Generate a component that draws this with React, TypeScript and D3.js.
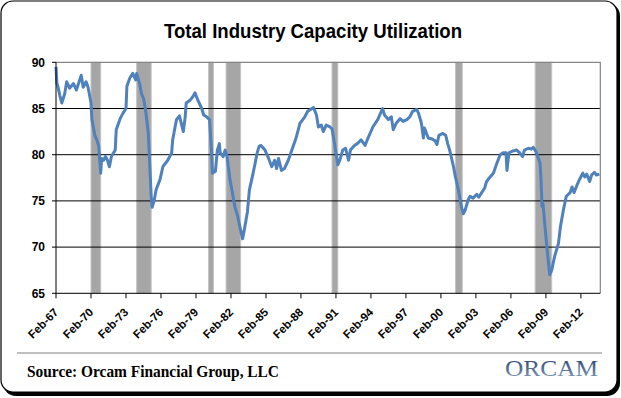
import * as d3 from "d3";

const WIDTH = 621;
const HEIGHT = 398;
const PLOT = { left: 56, right: 600.3, top: 62.3, bottom: 293.3 };

const TITLE = "Total Industry Capacity Utilization";
const SOURCE = "Source: Orcam Financial Group, LLC";
const LOGO = "ORCAM";

const Y_TICKS = [65, 70, 75, 80, 85, 90];
const TICK_YEARS = [1967, 1970, 1973, 1976, 1979, 1982, 1985, 1988, 1991, 1994, 1997, 2000, 2003, 2006, 2009, 2012];

// shaded recession periods, as placed on the chart
const RECESSIONS: [string, string][] = [
  ["1970-02", "1970-12"],
  ["1974-01", "1975-04"],
  ["1980-03", "1980-08"],
  ["1981-09", "1982-12"],
  ["1990-10", "1991-04"],
  ["2001-05", "2001-12"],
  ["2008-03", "2009-08"],
];

// capacity utilization (%)
const SERIES: [string, number][] = [
  ["1967-02", 89.5], ["1967-03", 87.7], ["1967-04", 87.4], ["1967-06", 86.4], ["1967-08", 85.6],
  ["1967-11", 86.6], ["1968-01", 87.9], ["1968-04", 87.2], ["1968-08", 87.7], ["1968-11", 87.0],
  ["1969-04", 88.6], ["1969-06", 87.3], ["1969-09", 87.9], ["1969-11", 87.3], ["1970-02", 85.6],
  ["1970-03", 83.8], ["1970-06", 82.1], ["1970-08", 81.6], ["1970-10", 80.9], ["1970-12", 78.0],
  ["1971-01", 79.6], ["1971-03", 79.4], ["1971-05", 79.8], ["1971-07", 79.4], ["1971-09", 78.7],
  ["1971-11", 79.8], ["1972-03", 80.5], ["1972-04", 82.7], ["1972-08", 83.9], ["1972-11", 84.5],
  ["1973-02", 85.0], ["1973-03", 87.4], ["1973-06", 88.3], ["1973-09", 88.8], ["1973-12", 88.1],
  ["1974-01", 88.8], ["1974-04", 87.7], ["1974-06", 86.6], ["1974-08", 86.1], ["1974-10", 85.0],
  ["1975-01", 82.3], ["1975-04", 75.5], ["1975-05", 74.3], ["1975-07", 75.0], ["1975-09", 76.2],
  ["1976-01", 77.3], ["1976-04", 78.7], ["1976-09", 79.4], ["1977-01", 80.2], ["1977-02", 81.6],
  ["1977-06", 83.8], ["1977-09", 84.2], ["1978-01", 82.5], ["1978-03", 84.1], ["1978-04", 85.6],
  ["1978-08", 85.9], ["1978-11", 86.3], ["1979-01", 86.7], ["1979-04", 85.9], ["1979-08", 85.0],
  ["1979-10", 84.3], ["1980-01", 84.1], ["1980-04", 83.8], ["1980-06", 80.5], ["1980-07", 78.0],
  ["1980-10", 78.2], ["1980-12", 80.5], ["1981-02", 81.2], ["1981-03", 80.2], ["1981-06", 79.8],
  ["1981-08", 80.5], ["1981-10", 79.8], ["1982-01", 77.3], ["1982-03", 76.2], ["1982-06", 74.4],
  ["1982-09", 73.3], ["1982-12", 71.8], ["1983-02", 70.9], ["1983-04", 72.0], ["1983-07", 73.8],
  ["1983-09", 76.2], ["1983-12", 77.6], ["1984-03", 79.1], ["1984-05", 80.2], ["1984-07", 80.9],
  ["1984-09", 81.0], ["1985-01", 80.5], ["1985-04", 79.8], ["1985-08", 78.7], ["1985-11", 79.4],
  ["1986-01", 78.5], ["1986-03", 79.6], ["1986-06", 78.3], ["1986-09", 78.5], ["1987-01", 79.4],
  ["1987-04", 80.3], ["1987-09", 81.8], ["1988-01", 83.4], ["1988-06", 84.1], ["1988-09", 84.7],
  ["1989-03", 85.1], ["1989-06", 84.3], ["1989-08", 83.0], ["1989-11", 83.2], ["1990-01", 82.5],
  ["1990-04", 83.2], ["1990-08", 83.0], ["1990-10", 82.8], ["1991-01", 80.9], ["1991-04", 78.9],
  ["1991-06", 79.4], ["1991-09", 80.5], ["1991-12", 80.7], ["1992-03", 79.4], ["1992-05", 80.5],
  ["1992-09", 81.0], ["1992-12", 81.2], ["1993-04", 81.6], ["1993-08", 81.0], ["1993-11", 81.8],
  ["1994-04", 83.0], ["1994-09", 83.8], ["1995-02", 85.0], ["1995-04", 84.3], ["1995-08", 83.8],
  ["1995-11", 84.1], ["1996-01", 82.7], ["1996-04", 83.4], ["1996-08", 83.9], ["1996-11", 83.6],
  ["1997-03", 83.8], ["1997-06", 84.1], ["1997-09", 84.7], ["1998-01", 84.9], ["1998-03", 84.5],
  ["1998-06", 83.4], ["1998-08", 81.8], ["1998-09", 82.9], ["1999-01", 81.8], ["1999-05", 81.7],
  ["1999-08", 81.5], ["1999-10", 81.1], ["1999-12", 82.1], ["2000-04", 82.3], ["2000-07", 82.1],
  ["2000-09", 81.2], ["2000-11", 80.5], ["2001-03", 78.7], ["2001-05", 77.6], ["2001-08", 76.2],
  ["2001-11", 74.4], ["2002-01", 73.6], ["2002-03", 74.0], ["2002-06", 75.1], ["2002-08", 75.5],
  ["2002-11", 75.3], ["2003-03", 75.7], ["2003-05", 75.4], ["2003-08", 75.9], ["2003-11", 76.4],
  ["2004-01", 77.1], ["2004-04", 77.5], ["2004-08", 78.0], ["2004-11", 78.9], ["2005-03", 80.0],
  ["2005-06", 80.2], ["2005-09", 80.2], ["2005-10", 78.3], ["2005-12", 80.2], ["2006-04", 80.4],
  ["2006-08", 80.5], ["2006-11", 80.2], ["2007-02", 79.8], ["2007-04", 80.5], ["2007-08", 80.7],
  ["2007-11", 80.6], ["2008-01", 80.8], ["2008-04", 80.3], ["2008-08", 79.1], ["2008-09", 77.3],
  ["2008-10", 74.4], ["2008-11", 74.7], ["2009-02", 71.1], ["2009-04", 69.0], ["2009-06", 67.0],
  ["2009-08", 67.5], ["2009-11", 69.0], ["2010-03", 70.4], ["2010-05", 72.2], ["2010-08", 74.0],
  ["2010-11", 75.5], ["2011-03", 75.9], ["2011-05", 76.5], ["2011-07", 75.9], ["2011-10", 76.7],
  ["2012-01", 77.4], ["2012-04", 78.0], ["2012-06", 77.6], ["2012-08", 77.9], ["2012-11", 77.1],
  ["2013-01", 77.8], ["2013-04", 78.1], ["2013-06", 77.8], ["2013-09", 77.9],
];

const parse = d3.timeParse("%Y-%m");
const fmt = d3.timeFormat("%b-%y");
const SERIF = "'Liberation Serif', 'Times New Roman', serif";

export default function App() {
  const xScale = d3
    .scaleTime()
    .domain([new Date(1967, 1, 1), new Date(2013, 9, 1)])
    .range([PLOT.left, PLOT.right]);
  const yScale = d3.scaleLinear().domain([65, 90]).range([PLOT.bottom, PLOT.top]);

  const points = SERIES.map(([d, v]) => ({ date: parse(d) as Date, value: v }));
  const line = d3
    .line<{ date: Date; value: number }>()
    .x((d) => xScale(d.date))
    .y((d) => yScale(d.value));

  const ticks = TICK_YEARS.map((y) => new Date(y, 1, 1));

  return (
    <svg
      width={WIDTH}
      height={HEIGHT}
      style={{ position: "absolute", left: 0, top: 0 }}
      fontFamily="'Liberation Sans', Arial, sans-serif"
    >
      <defs>
        <linearGradient id="logoFill" x1="0" y1="0" x2="0" y2="1">
          <stop offset="0%" stopColor="#1e3c6b" />
          <stop offset="100%" stopColor="#8aa2c0" />
        </linearGradient>
      </defs>

      {/* frame with shadow */}
      <rect x={3} y={3} width={617} height={393} rx={13} fill="#000" />
      <rect x={1} y={1} width={616} height={391} rx={12} fill="#fff" stroke="#000" strokeWidth={1.2} />

      <text
        x={313}
        y={38}
        textAnchor="middle"
        fontSize={21}
        fontWeight="bold"
        textLength={298}
        lengthAdjust="spacingAndGlyphs"
      >
        {TITLE}
      </text>

      {/* recession bands */}
      {RECESSIONS.map(([a, b]) => {
        const x0 = xScale(parse(a) as Date);
        const x1 = xScale(parse(b) as Date);
        return (
          <rect
            key={a}
            x={x0}
            y={PLOT.top}
            width={x1 - x0}
            height={PLOT.bottom - PLOT.top}
            fill="#a6a6a6"
            stroke="#c4c4c4"
            strokeWidth={1}
          />
        );
      })}

      {/* grid */}
      {Y_TICKS.filter((t) => t > 65 && t < 90).map((t) => (
        <line key={t} x1={PLOT.left} x2={PLOT.right} y1={yScale(t)} y2={yScale(t)} stroke="#000" strokeWidth={1} />
      ))}
      <path
        d={`M${PLOT.left},${PLOT.top}H${PLOT.right}V${PLOT.bottom}`}
        fill="none"
        stroke="#868686"
        strokeWidth={1.2}
      />

      {/* series */}
      <path d={line(points) ?? ""} fill="none" stroke="#4f81bd" strokeWidth={3} strokeLinejoin="round" />

      {/* y axis */}
      <line x1={PLOT.left} x2={PLOT.left} y1={PLOT.top} y2={PLOT.bottom} stroke="#000" />
      {Y_TICKS.map((t) => (
        <g key={t} transform={`translate(0,${yScale(t)})`}>
          <line x1={PLOT.left - 4} x2={PLOT.left} stroke="#000" />
          <text x={45} dy="0.36em" textAnchor="end" fontSize={12} fontWeight="bold">
            {t}
          </text>
        </g>
      ))}

      {/* x axis */}
      <line x1={PLOT.left} x2={PLOT.right} y1={PLOT.bottom} y2={PLOT.bottom} stroke="#000" />
      {ticks.map((d) => {
        const x = xScale(d);
        return (
          <g key={+d}>
            <line x1={x} x2={x} y1={PLOT.bottom} y2={PLOT.bottom + 5} stroke="#000" />
            <text
              transform={`translate(${x + 3},${313}) rotate(-45)`}
              textAnchor="end"
              fontSize={11.5}
              fontWeight="bold"
            >
              {fmt(d)}
            </text>
          </g>
        );
      })}

      {/* footer */}
      <line x1={17} x2={602} y1={353} y2={353} stroke="#808080" strokeWidth={1} />
      <text
        x={27}
        y={377}
        fontFamily={SERIF}
        fontSize={17}
        fontWeight="bold"
        textLength={252}
        lengthAdjust="spacingAndGlyphs"
      >
        {SOURCE}
      </text>
      <text
        x={505}
        y={376}
        fontFamily={SERIF}
        fontSize={23}
        fill="url(#logoFill)"
        textLength={93}
        lengthAdjust="spacingAndGlyphs"
      >
        {LOGO}
      </text>
    </svg>
  );
}
